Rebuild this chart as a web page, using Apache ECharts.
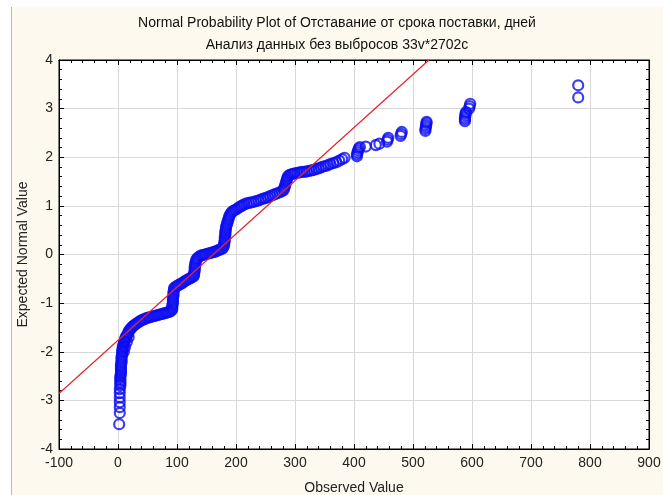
<!DOCTYPE html>
<html>
<head>
<meta charset="utf-8">
<script src="https://cdn.jsdelivr.net/npm/echarts@6/dist/echarts.min.js"></script>
<style>
html,body{margin:0;padding:0;background:#fff;}
#chart{width:663px;height:495px;}
</style>
</head>
<body>
<div id="chart"></div>
<script>
const titleLines = ['Normal Probability Plot of Отставание от срока поставки, дней', 'Анализ данных без выбросов 33v*2702c'];
const xTicks = [-100, 0, 100, 200, 300, 400, 500, 600, 700, 800, 900];
const yTicks = [-4, -3, -2, -1, 0, 1, 2, 3, 4];

const lowTail = [[2,-3.49],[3,-3.26],[3,-3.14],[3,-3.04],[3,-2.94],[3,-2.85],[3,-2.77]];
const nearZero = [[4,-2.70],[4,-2.66],[4,-2.62],[4,-2.58],[4,-2.54],[4,-2.50],[5,-2.46],[5,-2.42],[5,-2.38],[5,-2.34],[5,-2.30],[5,-2.26],[6,-2.22],[6,-2.18],[6,-2.14],[6,-2.10],[7,-2.06],[7,-2.02],[7,-1.98],[8,-1.94],[8,-1.90],[9,-1.86],[10,-1.82],[11,-1.78],[12,-1.74],[13,-1.70],[15,-1.66],[17,-1.62],[18,-1.58],[20,-1.55],[10,-2.00],[12,-1.90],[15,-1.80],[18,-1.70]];
const shelf1 = [[22,-1.52],[24,-1.49],[26,-1.47],[28,-1.45],[30,-1.43],[33,-1.41],[36,-1.38],[39,-1.36],[42,-1.34],[45,-1.33],[48,-1.31],[51,-1.30],[54,-1.29],[57,-1.28],[60,-1.27],[63,-1.26],[66,-1.25],[69,-1.24],[72,-1.23],[75,-1.22],[78,-1.21],[81,-1.20],[84,-1.19],[87,-1.18],[90,-1.16]];
const step90 = [[92,-1.13],[92,-1.09],[92,-1.05],[93,-1.01],[93,-0.97],[93,-0.93],[93,-0.89],[94,-0.85],[94,-0.81],[94,-0.77],[95,-0.73],[95,-0.69]];
const rise100 = [[98,-0.66],[101,-0.64],[104,-0.62],[107,-0.60],[110,-0.58],[113,-0.55],[116,-0.53],[119,-0.51],[122,-0.49],[125,-0.47],[128,-0.45]];
const step130 = [[129,-0.42],[129,-0.38],[130,-0.34],[130,-0.30],[130,-0.26],[131,-0.22],[131,-0.18],[132,-0.14],[133,-0.10],[135,-0.07]];
const shelf2 = [[138,-0.04],[141,-0.02],[144,-0.01],[147,0.00],[150,0.01],[153,0.02],[156,0.03],[159,0.04],[162,0.05],[165,0.06],[168,0.08],[171,0.09],[174,0.11],[177,0.12]];
const step180 = [[179,0.16],[180,0.20],[180,0.24],[181,0.28],[181,0.32],[181,0.36],[182,0.40],[182,0.44],[182,0.48],[183,0.52],[183,0.56],[184,0.60],[185,0.64],[186,0.68],[187,0.72],[188,0.76],[189,0.80],[191,0.84],[193,0.88]];
const rise200 = [[196,0.90],[199,0.92],[202,0.94],[205,0.97],[208,0.99],[211,1.01],[214,1.03],[218,1.05],[222,1.06],[226,1.07],[230,1.08],[234,1.10],[238,1.11],[242,1.13],[246,1.15],[250,1.16],[254,1.18],[258,1.20],[262,1.22],[266,1.24],[270,1.26],[274,1.28],[278,1.30]];
const step285 = [[281,1.33],[282,1.37],[283,1.41],[284,1.45],[285,1.49],[286,1.53],[287,1.57],[288,1.61]];
const rise300 = [[291,1.64],[294,1.65],[297,1.66],[300,1.67],[304,1.68],[308,1.69],[312,1.70],[316,1.70],[320,1.71],[324,1.72],[328,1.73],[332,1.74],[336,1.76],[340,1.77],[344,1.79],[348,1.81],[352,1.82],[356,1.84],[360,1.86],[365,1.88],[370,1.90],[375,1.93],[380,1.96],[384,1.99]];
const upperTail = [[405,2.02],[405,2.06],[406,2.10],[407,2.14],[408,2.18],[410,2.21],[420,2.22],[437,2.25],[443,2.28],[456,2.32],[457,2.36],[458,2.40],[479,2.44],[480,2.48],[481,2.52],[521,2.54],[521,2.58],[522,2.62],[522,2.66],[523,2.70],[523,2.73],[588,2.74],[588,2.78],[588,2.82],[589,2.86],[589,2.90],[590,2.93],[595,3.00],[596,3.05],[597,3.10],[780,3.23],[780,3.48]];

// Reference (fitted) line endpoints
const fitLineX = [-100, 527];
const fitLineY = [-2.86, 4];

const points = [].concat(lowTail, nearZero, shelf1, step90, rise100, step130, shelf2, step180, rise200, step285, rise300, upperTail);
const fitLine = fitLineX.map((x, i) => [x, fitLineY[i]]);

const FONT = 'Liberation Sans, Arial, sans-serif';
const chart = echarts.init(document.getElementById('chart'), null, {renderer: 'canvas'});

const gridL = 59, gridR = 14, gridT = 60, gridB = 46;
function mirrorAxis(pos, min, max, interval) {
  return {
    type: 'value', position: pos, min: min, max: max, interval: interval,
    axisLine: {show: true, onZero: false, lineStyle: {color: '#000', width: 1}},
    axisTick: {show: true, inside: true, length: 5, lineStyle: {color: '#000'}},
    minorTick: {show: true, splitNumber: 5, length: 3, lineStyle: {color: '#000'}},
    axisLabel: {show: false}, splitLine: {show: false}
  };
}

chart.setOption({
  animation: false,
  backgroundColor: '#fdf9ee',
  graphic: [
    {type: 'rect', shape: {x: 0, y: 0, width: 663, height: 7}, style: {fill: '#ffffff'}, silent: true},
    {type: 'rect', shape: {x: 0, y: 0, width: 11, height: 495}, style: {fill: '#ffffff'}, silent: true},
    {type: 'line', shape: {x1: 11.5, y1: 7, x2: 11.5, y2: 495}, style: {stroke: '#b8b8b8', lineWidth: 1}, silent: true},
    {type: 'text', x: 337, y: 16, style: {text: titleLines[0], font: '14px ' + FONT, fill: '#111', textAlign: 'center', textVerticalAlign: 'top'}, silent: true},
    {type: 'text', x: 337, y: 38, style: {text: titleLines[1], font: '14px ' + FONT, fill: '#111', textAlign: 'center', textVerticalAlign: 'top'}, silent: true}
  ],
  grid: {left: gridL, right: gridR, top: gridT, bottom: gridB, show: true, backgroundColor: '#ffffff', borderColor: '#000', borderWidth: 1, containLabel: false, outerBoundsMode: 'none'},
  xAxis: [{
    type: 'value', min: xTicks[0], max: xTicks[xTicks.length - 1], interval: 100,
    name: 'Observed Value', nameLocation: 'middle', nameGap: 32,
    nameTextStyle: {fontFamily: FONT, fontSize: 14, color: '#222'},
    axisLine: {show: true, onZero: false, lineStyle: {color: '#000', width: 1}},
    axisTick: {show: true, inside: true, length: 5, lineStyle: {color: '#000'}},
    minorTick: {show: true, splitNumber: 5, length: 3, lineStyle: {color: '#000'}},
    axisLabel: {fontFamily: FONT, fontSize: 14, color: '#222', margin: 7},
    splitLine: {show: true, lineStyle: {color: '#d8d8d8', width: 1}}
  }, mirrorAxis('top', xTicks[0], xTicks[xTicks.length - 1], 100)],
  yAxis: [{
    type: 'value', min: yTicks[0], max: yTicks[yTicks.length - 1], interval: 1,
    name: 'Expected Normal Value', nameLocation: 'middle', nameGap: 25, nameRotate: 90,
    nameTextStyle: {fontFamily: FONT, fontSize: 14, color: '#222'},
    axisLine: {show: true, onZero: false, lineStyle: {color: '#000', width: 1}},
    axisTick: {show: true, inside: true, length: 5, lineStyle: {color: '#000'}},
    minorTick: {show: true, splitNumber: 5, length: 3, lineStyle: {color: '#000'}},
    axisLabel: {fontFamily: FONT, fontSize: 14, color: '#222', margin: 6},
    splitLine: {show: true, lineStyle: {color: '#d8d8d8', width: 1}}
  }, mirrorAxis('right', yTicks[0], yTicks[yTicks.length - 1], 1)],
  series: [{
    type: 'scatter', data: points, symbol: 'circle', symbolSize: 10,
    itemStyle: {color: 'rgba(0,0,0,0)', borderColor: '#0c0cf2', borderWidth: 2.2},
    emphasis: {disabled: true}, silent: true, z: 3
  }, {
    type: 'line', data: fitLine, showSymbol: false, symbol: 'none',
    lineStyle: {color: '#e3262b', width: 1.2}, silent: true, clip: true, z: 4
  }]
});
</script>
</body>
</html>
